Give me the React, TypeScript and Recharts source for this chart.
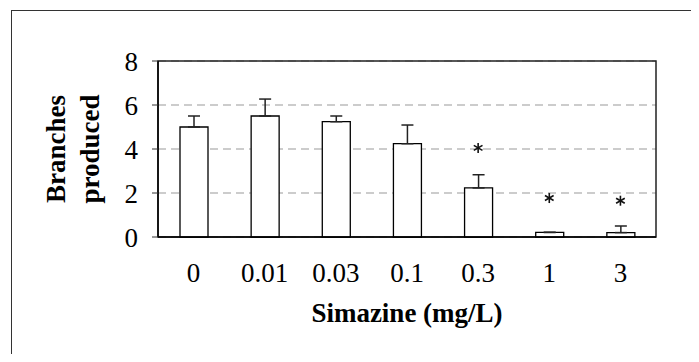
import {
  ComposedChart,
  Bar,
  ErrorBar,
  Scatter,
  XAxis,
  YAxis,
  CartesianGrid,
  ReferenceArea,
  Label,
} from "recharts";

const concentrations = ["0", "0.01", "0.03", "0.1", "0.3", "1", "3"];
const branches = [5.0, 5.5, 5.24, 4.24, 2.23, 0.21, 0.2];
const upperErrors = [0.5, 0.77, 0.26, 0.85, 0.6, 0, 0.3];
const stars = [null, null, null, null, 4.05, 1.77, 1.65];
const yTicks = [0, 2, 4, 6, 8];

const serif = '"Liberation Serif", "Times New Roman", serif';

const data = concentrations.map((name, i) => ({
  name,
  branches: branches[i],
  err: [0, upperErrors[i]],
  star: stars[i],
}));

// six-armed asterisk drawn with lines
const Star = (props: any) => {
  const { cx, cy } = props;
  if (cx == null || cy == null || props.payload?.star == null) return null;
  const r = 5;
  const arms = [90, 30, 150].map((a) => {
    const rad = (a * Math.PI) / 180;
    return (
      <line
        key={a}
        x1={cx - r * Math.cos(rad)}
        y1={cy - r * Math.sin(rad)}
        x2={cx + r * Math.cos(rad)}
        y2={cy + r * Math.sin(rad)}
        stroke="#111"
        strokeWidth={1.6}
      />
    );
  });
  return <g>{arms}</g>;
};

const YTitle = (props: any) => {
  const vb = props.viewBox || {};
  const cy = vb.y + vb.height / 2;
  return (
    <g fontFamily={serif} fontWeight="bold" fontSize={27} fill="#000">
      <text x={56} y={cy} transform={`rotate(-90 56 ${cy})`} textAnchor="middle" dominantBaseline="central">
        Branches
      </text>
      <text x={90} y={cy} transform={`rotate(-90 90 ${cy})`} textAnchor="middle" dominantBaseline="central">
        produced
      </text>
    </g>
  );
};

const XTitle = (props: any) => {
  const vb = props.viewBox || {};
  return (
    <text
      x={vb.x + vb.width / 2}
      y={vb.y + 76}
      textAnchor="middle"
      dominantBaseline="central"
      fontFamily={serif}
      fontWeight="bold"
      fontSize={27}
      fill="#000"
    >
      Simazine (mg/L)
    </text>
  );
};

export default function App() {
  return (
    <div style={{ position: "relative", width: 699, height: 362, margin: -8, overflow: "hidden", background: "#fff" }}>
      <div
        style={{
          position: "absolute",
          left: 11,
          top: 10,
          width: 800,
          height: 500,
          borderLeft: "1.5px solid #333",
          borderTop: "1.5px solid #333",
        }}
      />
      <div style={{ position: "absolute", left: 0, top: 0 }}>
        <ComposedChart
          width={699}
          height={362}
          data={data}
          margin={{ top: 61, right: 43, bottom: 0, left: 0 }}
        >
          <CartesianGrid horizontal vertical={false} stroke="#999" strokeDasharray="8 5" />
          <ReferenceArea y1={0} y2={8} fill="none" stroke="#222" strokeWidth={1.5} />
          <XAxis
            dataKey="name"
            height={125}
            axisLine={{ stroke: "#000", strokeWidth: 1.5 }}
            tickLine={false}
            tickSize={0}
            tickMargin={26}
            tick={{ fontFamily: serif, fontSize: 27, fill: "#000" }}
          >
            <Label content={<XTitle />} />
          </XAxis>
          <YAxis
            width={158}
            domain={[0, 8]}
            ticks={yTicks}
            interval={0}
            axisLine={{ stroke: "#000", strokeWidth: 1.5 }}
            tickLine={{ stroke: "#333" }}
            tickSize={6}
            tickMargin={14}
            tick={{ fontFamily: serif, fontSize: 27, fill: "#000" }}
          >
            <Label content={<YTitle />} />
          </YAxis>
          <Bar dataKey="branches" barSize={28} fill="#fff" stroke="#000" strokeWidth={1.3} isAnimationActive={false}>
            <ErrorBar dataKey="err" direction="y" width={6} stroke="#222" strokeWidth={1.5} isAnimationActive={false} />
          </Bar>
          <Scatter dataKey="star" shape={<Star />} isAnimationActive={false} />
        </ComposedChart>
      </div>
    </div>
  );
}
